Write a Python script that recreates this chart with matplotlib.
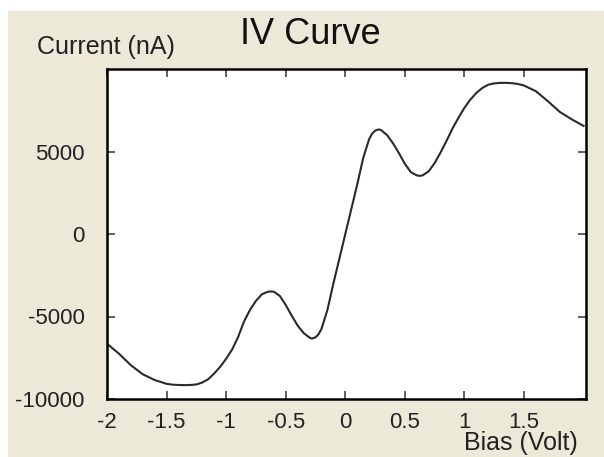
import matplotlib
matplotlib.use("Agg")
import matplotlib.pyplot as plt
from matplotlib.patches import Rectangle

# Data
bias = [-2.0, -1.9, -1.8, -1.7, -1.6, -1.5, -1.45, -1.4, -1.35, -1.3, -1.25, -1.2,
        -1.15, -1.1, -1.05, -1.0, -0.95, -0.9, -0.85, -0.8, -0.75, -0.7, -0.65,
        -0.62, -0.6, -0.55, -0.5, -0.45, -0.4, -0.35, -0.3, -0.28, -0.25, -0.225,
        -0.2, -0.15, -0.1, -0.05, 0.0, 0.05, 0.1, 0.15, 0.2, 0.225, 0.25, 0.28,
        0.3, 0.35, 0.4, 0.45, 0.5, 0.55, 0.6, 0.63, 0.65, 0.7, 0.75, 0.8, 0.85,
        0.9, 0.95, 1.0, 1.05, 1.1, 1.15, 1.2, 1.25, 1.3, 1.35, 1.4, 1.45, 1.5,
        1.6, 1.7, 1.8, 1.9, 2.0]
current = [-6650, -7250, -7950, -8500, -8850, -9080, -9130, -9150, -9160, -9150,
           -9120, -9000, -8800, -8450, -8050, -7560, -7000, -6250, -5300, -4600,
           -4050, -3650, -3500, -3480, -3500, -3750, -4300, -4950, -5550, -6000,
           -6280, -6340, -6260, -6080, -5750, -4600, -3000, -1500, 0, 1500, 3000,
           4600, 5750, 6080, 6260, 6340, 6300, 6000, 5500, 4900, 4250, 3750, 3550,
           3520, 3560, 3800, 4300, 4950, 5650, 6400, 7050, 7650, 8150, 8550, 8850,
           9050, 9130, 9160, 9160, 9140, 9090, 9000, 8650, 8050, 7400, 6950, 6550]

xticks = [-2, -1.5, -1, -0.5, 0, 0.5, 1, 1.5]
xtick_labels = ["-2", "-1.5", "-1", "-0.5", "0", "0.5", "1", "1.5"]
yticks = [-10000, -5000, 0, 5000]
ytick_labels = ["-10000", "-5000", "0", "5000"]

plt.rcParams['font.family'] = ['Liberation Sans', 'DejaVu Sans']

W, H = 604, 457
fig = plt.figure(figsize=(W / 100, H / 100), dpi=100, facecolor='white')
fig.patches.append(Rectangle((8 / W, 0), 1, 1 - 11 / H, transform=fig.transFigure,
                             facecolor='#ECE9D8', edgecolor='none', zorder=-10))

ax = fig.add_axes([107 / W, 1 - 399 / H, (586 - 107) / W, (399 - 69) / H])
ax.set_facecolor('white')
ax.plot(bias, current, color='#2a2a2a', lw=1.5, solid_joinstyle='round')
ax.set_xlim(-2, 2.02)
ax.set_ylim(-10000, 10000)
ax.set_xticks(xticks)
ax.set_xticklabels(xtick_labels)
ax.set_yticks(yticks)
ax.set_yticklabels(ytick_labels)
ax.tick_params(axis='both', direction='in', length=6, width=1.2, color='#444444',
               labelsize=16, labelcolor='#222222', top=True, right=True)
ax.tick_params(axis='x', pad=9)
ax.tick_params(axis='y', pad=16)
for s in ax.spines.values():
    s.set_linewidth(1.8)
    s.set_color('black')

fig.text(310 / W, 1 - 35 / H, "IV Curve", ha='center', va='center', fontsize=26,
         color='#111111')
fig.text(37 / W, 1 - 47 / H, "Current (nA)", ha='left', va='center', fontsize=18,
         color='#222222')
fig.text(578 / W, 1 - 443 / H, "Bias (Volt)", ha='right', va='center', fontsize=18,
         color='#222222')

fig.savefig("out.png", dpi=100, facecolor=fig.get_facecolor())
